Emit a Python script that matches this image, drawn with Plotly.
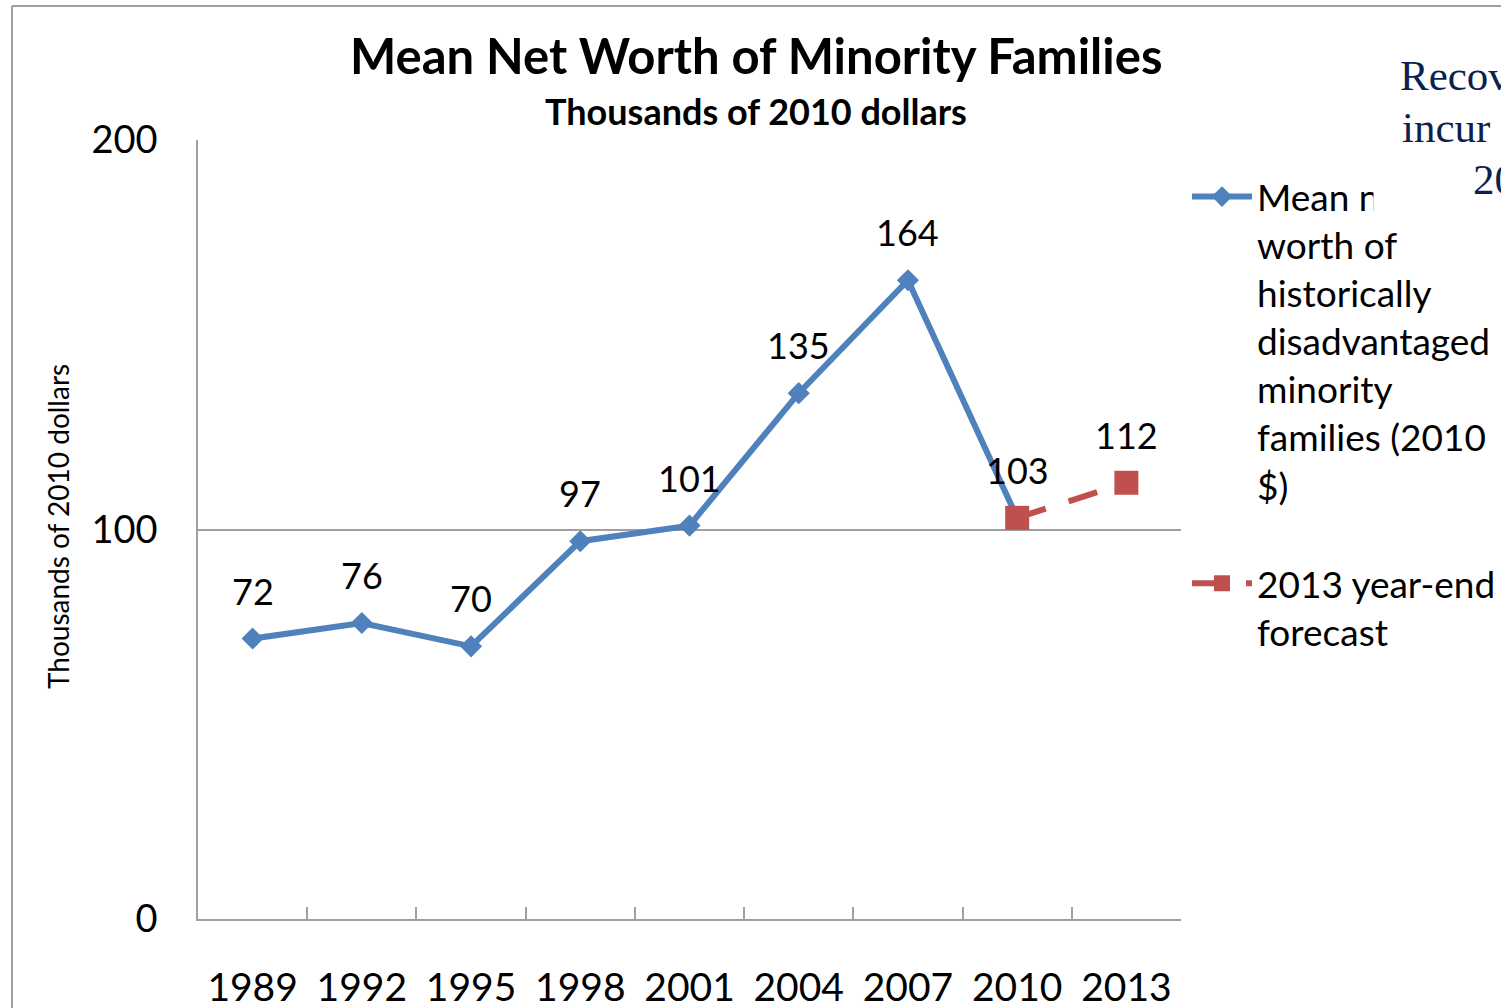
import plotly.graph_objects as go

# ---- data ----
years = ["1989", "1992", "1995", "1998", "2001", "2004", "2007", "2010", "2013"]
mean_net_worth = [72, 76, 70, 97, 101, 135, 164, 103, None]
forecast = [None, None, None, None, None, None, None, 103, 112]
y_ticks = [0, 100, 200]

BLUE = "#4f81bd"
RED = "#c0504d"
GREY = "#a0a0a0"
FONT = "Lato"

W, H = 1501, 1008
L, R, T, B = 198, 1181, 140, 919


def px_x(px):
    return (px - L) / (R - L)


def px_y(py):
    return (B - py) / (B - T)


fig = go.Figure()

fig.add_trace(go.Scatter(
    x=years, y=mean_net_worth, mode="lines+markers",
    name="Mean net<br>worth of<br>historically<br>disadvantaged<br>minority<br>families (2010<br>$)",
    line=dict(color=BLUE, width=6),
    marker=dict(symbol="diamond", size=17, color=BLUE),
    legendgroup="a", connectgaps=False,
))
fig.add_trace(go.Scatter(
    x=years, y=forecast, mode="lines+markers",
    name="2013 year-end<br>forecast",
    line=dict(color=RED, width=6, dash="30px,24px"),
    marker=dict(symbol="square", size=24, color=RED),
    legendgroup="b",
))

annotations = []
label_font = dict(family=FONT, size=36, color="#000")

# data labels (category axis positions are serial indices)
for i, v in enumerate(mean_net_worth):
    if v is not None:
        annotations.append(dict(x=i, y=v, xref="x", yref="y", text=str(v),
                                showarrow=False, yshift=48, yanchor="middle",
                                font=label_font))
for i, (v, base) in enumerate(zip(forecast, mean_net_worth)):
    if v is not None and base is None:
        annotations.append(dict(x=i, y=v, xref="x", yref="y", text=str(v),
                                showarrow=False, yshift=48, yanchor="middle",
                                font=label_font))

# titles
annotations.append(dict(x=px_x(756), y=px_y(55), xref="paper", yref="paper",
                        text="<b>Mean Net Worth of Minority Families</b>",
                        showarrow=False, xanchor="center", yanchor="middle",
                        font=dict(family=FONT, size=49, color="#000")))
annotations.append(dict(x=px_x(756), y=px_y(111), xref="paper", yref="paper",
                        text="<b>Thousands of 2010 dollars</b>",
                        showarrow=False, xanchor="center", yanchor="middle",
                        font=dict(family=FONT, size=36, color="#000")))
annotations.append(dict(x=px_x(58), y=px_y(527), xref="paper", yref="paper",
                        text="Thousands of 2010 dollars", textangle=-90,
                        showarrow=False, xanchor="center", yanchor="middle",
                        font=dict(family=FONT, size=28, color="#000")))

# overlapping text box at the top right
annotations.append(dict(x=px_x(1373), y=px_y(42), xref="paper", yref="paper",
                        text=" ", showarrow=False, xanchor="left", yanchor="top",
                        width=200, height=172, bgcolor="white", borderpad=0,
                        font=dict(family=FONT, size=10)))
for txt, x0, yc in [("Recov", 1398, 76), ("incur", 1400, 128), ("20", 1471, 180)]:
    annotations.append(dict(x=px_x(x0), y=px_y(yc), xref="paper", yref="paper",
                            text=txt, showarrow=False, xanchor="left", yanchor="middle",
                            font=dict(family="Liberation Serif", size=43, color="#0c1f4f")))

shapes = [
    # outer frame
    dict(type="line", xref="paper", yref="paper", x0=px_x(12), x1=px_x(12),
         y0=px_y(6), y1=px_y(1010), line=dict(color=GREY, width=2)),
    dict(type="line", xref="paper", yref="paper", x0=px_x(12), x1=px_x(1505),
         y0=px_y(6), y1=px_y(6), line=dict(color=GREY, width=2)),
]

fig.update_layout(
    width=W, height=H,
    margin=dict(l=L, r=W - R, t=T, b=H - B, pad=0, autoexpand=False),
    paper_bgcolor="white", plot_bgcolor="white",
    font=dict(family=FONT, color="#000"),
    showlegend=True,
    legend=dict(xref="container", yref="container",
                x=1187 / W, y=1 - 166 / H, xanchor="left", yanchor="top",
                font=dict(family=FONT, size=37, color="#000"),
                valign="top", itemwidth=60, traceorder="grouped",
                tracegroupgap=47, bgcolor="rgba(0,0,0,0)"),
    annotations=annotations,
    shapes=shapes,
    xaxis=dict(
        type="category", range=[-0.5, 8.5], showgrid=False, automargin=False,
        showline=True, linecolor=GREY, linewidth=1.5,
        ticks="inside", tickson="boundaries", ticklen=12, tickcolor=GREY, tickwidth=1.5,
        tickfont=dict(family=FONT, size=39, color="#000"),
        ticklabelstandoff=33, fixedrange=True,
    ),
    yaxis=dict(
        range=[0, 200], tickvals=y_ticks, showgrid=True, gridcolor=GREY, gridwidth=1.5,
        showline=True, linecolor=GREY, linewidth=1.5, zeroline=False, automargin=False,
        ticks="", tickfont=dict(family=FONT, size=38, color="#000"),
        ticklabelstandoff=31, fixedrange=True,
    ),
)

fig.write_html("out.html")
